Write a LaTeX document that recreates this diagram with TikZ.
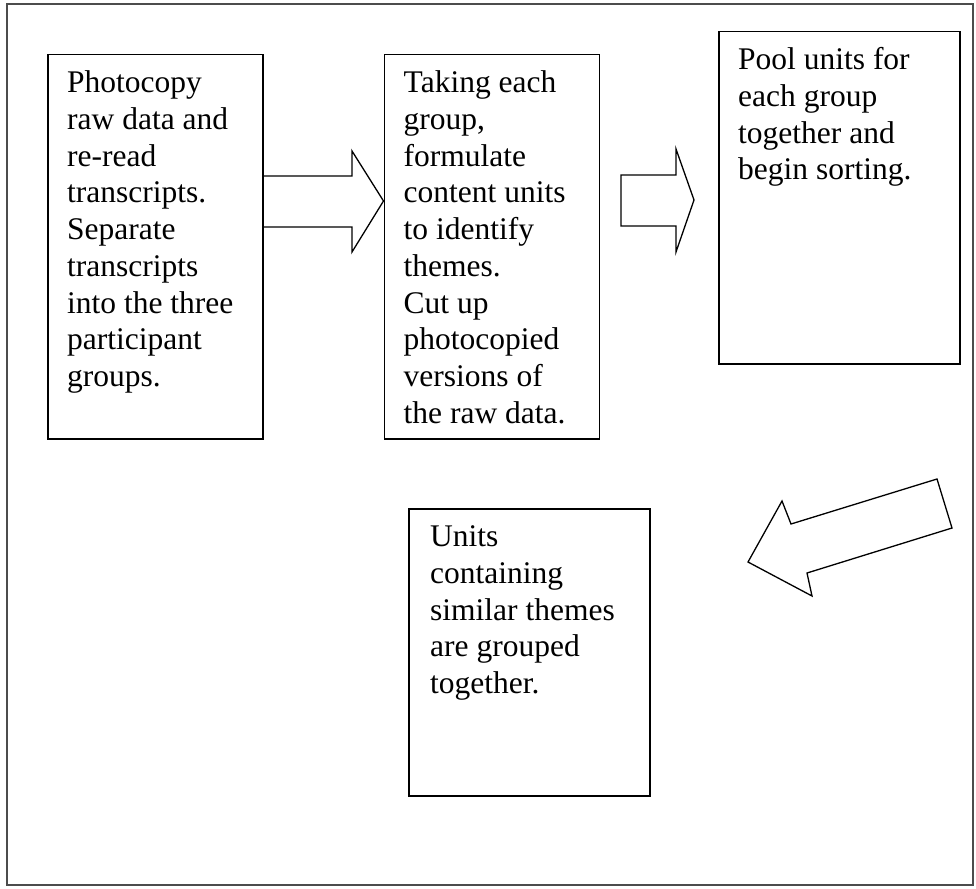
\documentclass[tikz,border=0pt]{standalone}
\usepackage{fontspec}
\setmainfont{Liberation Serif}
\usetikzlibrary{positioning}

\begin{document}
\begin{tikzpicture} [x=1pt, y=-1pt, node distance=120pt,
                    vaihe/.style={draw, line width=1.5pt, minimum width=215pt, minimum height=384pt, inner sep=0pt},
                    teksti/.style={anchor=north west, align=left, inner xsep=20pt, inner ysep=13pt, font=\fontsize{31.5}{36.7}\selectfont},
                    nuoli/.style={draw, line width=1.3pt, line join=miter}]

\useasboundingbox (0,0) rectangle (976,888);
\draw[line width=1.5pt, black!70] (7,4) rectangle (973,885);

\node[vaihe, anchor=north west] (1) at (47,54) {};
\node[vaihe] (2) [right=of 1] {};
\node[vaihe, anchor=north west, minimum width=241pt, minimum height=332pt] (3) at (718,31) {};
\node[vaihe, anchor=north west, minimum width=241pt, minimum height=287pt] (4) at (408,508) {};

\node[teksti] (t1) at (1.north west) {\strut Photocopy\\raw data and\\re-read\\transcripts.\\Separate\\transcripts\\into the three\\participant\\groups.};
\node[teksti] (t2) at (2.north west) {\strut Taking each\\group,\\formulate\\content units\\to identify\\themes.\\Cut up\\photocopied\\versions of\\the raw data.};
\node[teksti] (t3) at (3.north west) {\strut Pool units for\\each group\\together and\\begin sorting.};
\node[teksti, inner xsep=22pt] (t4) at (4.north west) {\strut Units\\containing\\similar themes\\are grouped\\together.};

\draw[nuoli] (1.east |- 0,176) -- (352,176) -- (352,151) -- (2.west |- 0,201) -- (352,252) -- (352,227) -- (1.east |- 0,227);
\draw[nuoli] (621,175) -- (676,175) -- (676,149) -- (694,200) -- (676,252) -- (676,226) -- (621,226) -- cycle;
\draw[nuoli] (937,479) -- (952,528) -- (807,573) -- (812,596) -- (748,562) -- (782,501) -- (791,524) -- cycle;
\end{tikzpicture}
\end{document}
